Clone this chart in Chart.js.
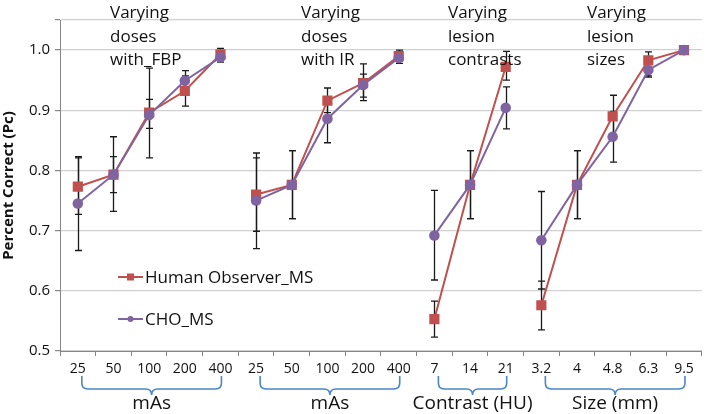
<!DOCTYPE html>
<html>
<head>
<meta charset="utf-8">
<script src="https://cdn.jsdelivr.net/npm/chart.js@4"></script>
<style>
html,body{margin:0;padding:0;background:#fff;}
#wrap{width:709px;height:414px;}
</style>
</head>
<body>
<div id="wrap"><canvas id="c" width="709" height="414"></canvas></div>
<script>
// ---- data ----
const categories = ['25','50','100','200','400','25','50','100','200','400','7','14','21','3.2','4','4.8','6.3','9.5'];
const groupStarts = [0, 5, 10, 13];
const groupEnds = [4, 9, 12, 17];
const groupLabels = ['mAs', 'mAs', 'Contrast (HU)', 'Size (mm)'];
const annotations = [
  ['Varying', 'doses', 'with_FBP'],
  ['Varying', 'doses', 'with IR'],
  ['Varying', 'lesion', 'contrasts'],
  ['Varying', 'lesion', 'sizes']
];
const yTicks = [0.5, 0.6, 0.7, 0.8, 0.9, 1.0];

const humanName = 'Human Observer_MS';
const human   = [0.773,0.793,0.896,0.932,0.993, 0.760,0.776,0.916,0.945,0.990, 0.553,0.776,0.972, 0.576,0.776,0.890,0.983,1.000];
const humanLo = [0.727,0.763,0.870,0.907,0.985, 0.699,0.720,0.896,0.916,0.982, 0.523,0.720,0.950, 0.535,0.720,0.856,0.957,1.000];
const humanHi = [0.823,0.823,0.918,0.957,1.003, 0.821,0.833,0.937,0.977,1.000, 0.583,0.833,0.998, 0.616,0.833,0.925,0.997,1.000];

const choName = 'CHO_MS';
const cho   = [0.745,0.793,0.892,0.949,0.988, 0.750,0.776,0.886,0.942,0.987, 0.692,0.776,0.904, 0.684,0.776,0.856,0.967,1.000];
const choLo = [0.667,0.732,0.821,0.932,0.980, 0.670,0.720,0.846,0.922,0.978, 0.618,0.720,0.869, 0.603,0.720,0.814,0.955,1.000];
const choHi = [0.821,0.856,0.970,0.966,0.996, 0.829,0.833,0.922,0.960,0.996, 0.767,0.833,0.939, 0.765,0.833,0.898,0.980,1.000];

// ---- styles ----
const RED = '#c0504d';
const PURPLE = '#8064a2';
const FONT = "'Open Sans', sans-serif";
const TEXT = '#111111';
const AXIS = '#868686';

function seg(color) {
  return { borderColor: ctx => groupStarts.includes(ctx.p1DataIndex) ? 'rgba(0,0,0,0)' : color };
}

const errorBars = {
  id: 'errorBars',
  beforeDatasetsDraw(chart) {
    const ctx = chart.ctx, x = chart.scales.x, y = chart.scales.y;
    const sets = [[humanLo, humanHi], [choLo, choHi]];
    ctx.save();
    ctx.strokeStyle = '#1a1a1a';
    ctx.lineWidth = 1.3;
    sets.forEach(([lo, hi]) => {
      lo.forEach((l, i) => {
        const px = Math.round(x.getPixelForValue(i)) + 0.5;
        const y1 = y.getPixelForValue(l), y2 = y.getPixelForValue(hi[i]);
        if (Math.abs(y1 - y2) < 0.5) return;
        ctx.beginPath();
        ctx.moveTo(px, y1); ctx.lineTo(px, y2);
        ctx.moveTo(px - 3.5, y1); ctx.lineTo(px + 3.5, y1);
        ctx.moveTo(px - 3.5, y2); ctx.lineTo(px + 3.5, y2);
        ctx.stroke();
      });
    });
    ctx.restore();
  }
};

const extras = {
  id: 'extras',
  afterDraw(chart) {
    const ctx = chart.ctx, x = chart.scales.x;
    ctx.save();
    // annotations
    ctx.fillStyle = TEXT;
    ctx.font = "17px " + FONT;
    ctx.textAlign = 'left';
    ctx.textBaseline = 'alphabetic';
    const annX = [110, 301, 448, 587];
    annotations.forEach((lines, g) => {
      lines.forEach((t, k) => ctx.fillText(t, annX[g], 18 + k * 23.5));
    });
    // legend
    const leg = [[humanName, RED, 'rect', 277], [choName, PURPLE, 'circle', 319]];
    leg.forEach(([name, col, shape, ly]) => {
      ctx.strokeStyle = col; ctx.fillStyle = col; ctx.lineWidth = 2;
      ctx.beginPath(); ctx.moveTo(118, ly); ctx.lineTo(143, ly); ctx.stroke();
      ctx.beginPath();
      if (shape === 'rect') ctx.rect(127, ly - 3.5, 7, 7);
      else ctx.arc(130.5, ly, 3, 0, Math.PI * 2);
      ctx.fill();
      ctx.fillStyle = TEXT;
      ctx.font = "17px " + FONT;
      ctx.textBaseline = 'middle';
      ctx.fillText(name, 145, ly + 1);
    });
    // brackets
    ctx.strokeStyle = '#4a86c8';
    ctx.lineWidth = 1.6;
    groupStarts.forEach((s, g) => {
      const L = x.getPixelForValue(s) + 4;
      const R = x.getPixelForValue(groupEnds[g]) + 1;
      const C = (L + R) / 2;
      const top = 376, mid = 389, tip = 395, r = 6;
      ctx.beginPath();
      ctx.moveTo(L, top);
      ctx.lineTo(L, mid - r);
      ctx.quadraticCurveTo(L, mid, L + r, mid);
      ctx.lineTo(C - r, mid);
      ctx.quadraticCurveTo(C, mid, C, tip);
      ctx.quadraticCurveTo(C, mid, C + r, mid);
      ctx.lineTo(R - r, mid);
      ctx.quadraticCurveTo(R, mid, R, mid - r);
      ctx.lineTo(R, top);
      ctx.stroke();
      ctx.fillStyle = TEXT;
      ctx.font = "19px " + FONT;
      ctx.textAlign = 'center';
      ctx.textBaseline = 'middle';
      ctx.fillText(groupLabels[g], C, 404);
    });
    ctx.restore();
  }
};

new Chart(document.getElementById('c'), {
  type: 'line',
  data: {
    labels: categories,
    datasets: [
      {
        label: choName, data: cho, order: 0,
        borderColor: PURPLE, backgroundColor: PURPLE,
        pointBackgroundColor: PURPLE, pointBorderColor: PURPLE,
        pointStyle: 'circle', pointRadius: 5.3, borderWidth: 2, pointBorderWidth: 0,
        segment: seg(PURPLE), tension: 0
      },
      {
        label: humanName, data: human, order: 1,
        borderColor: RED, backgroundColor: RED,
        pointBackgroundColor: RED, pointBorderColor: RED,
        pointStyle: 'rect', pointRadius: 7.2, borderWidth: 2, pointBorderWidth: 0,
        segment: seg(RED), tension: 0
      }
    ]
  },
  options: {
    responsive: false,
    animation: false,
    devicePixelRatio: 1,
    layout: { padding: { top: 20, right: 1, left: 0, bottom: 0 } },
    plugins: { legend: { display: false }, tooltip: { enabled: false } },
    scales: {
      x: {
        type: 'category',
        offset: true,
        grid: { display: true, drawOnChartArea: false, drawTicks: true, tickLength: 5, color: AXIS, offset: true },
        border: { color: AXIS, width: 1 },
        ticks: { color: TEXT, font: { family: FONT, size: 14 }, padding: 5, maxRotation: 0, autoSkip: false },
        afterFit(s) { s.height = 63; }
      },
      y: {
        min: 0.5, max: 1.05,
        afterBuildTicks(s) { s.ticks = yTicks.concat([1.05]).map(v => ({ value: v })); },
        grid: { color: '#d0d0d0', tickColor: AXIS, tickLength: 5, lineWidth: 1.2 },
        border: { color: AXIS, width: 1 },
        ticks: {
          color: TEXT, font: { family: FONT, size: 15 }, padding: 5,
          callback: v => yTicks.some(t => Math.abs(t - v) < 1e-9) ? v.toFixed(1) : ''
        },
        title: { display: true, text: 'Percent Correct (Pc)', color: TEXT, font: { family: FONT, size: 15, weight: 'bold' }, padding: { top: 0, bottom: 0 } },
        afterFit(s) { s.width = 60; }
      }
    }
  },
  plugins: [errorBars, extras]
});
</script>
</body>
</html>
